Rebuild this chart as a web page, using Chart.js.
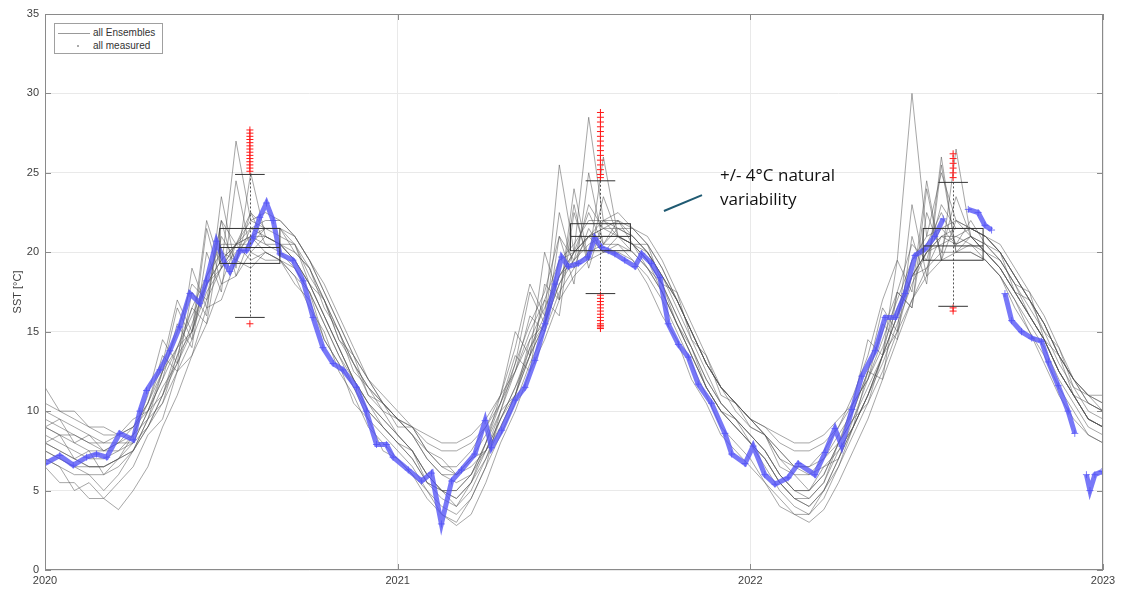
<!DOCTYPE html>
<html lang="en">
<head>
    <meta charset="UTF-8" />
    <title>SST ensembles vs measured</title>
    <script src="https://cdn.jsdelivr.net/npm/chart.js"></script>
    <style>
        html, body { margin: 0; padding: 0; background: #fff; }
        #wrap { position: relative; width: 1127px; height: 590px; }
        #legendBox {
            position: absolute; left: 54px; top: 23px; width: 107px; height: 29px;
            border: 1px solid #a0a0a0; background: #fff;
            font: 10px "Liberation Sans", Arial, sans-serif; color: #333;
        }
        #legendBox .row { position: absolute; left: 0; height: 12px; line-height: 12px; }
        #legendBox .sample { position: absolute; left: 3px; top: 6px; width: 32px; height: 1px; background: #999; }
        #legendBox .dot { position: absolute; left: 22px; top: 5px; width: 2px; height: 2px; background: #aaa; }
        #legendBox .txt { position: absolute; left: 38px; top: 0; white-space: nowrap; }
        #note {
            position: absolute; left: 720px; top: 163px;
            font: 17px "Open Sans", "Noto Sans", sans-serif; line-height: 24px; color: #111;
        }
    </style>
</head>
<body>
<div id="wrap">
    <canvas id="sst"></canvas>
    <div id="legendBox">
        <div class="row" style="top:3px"><span class="sample"></span><span class="txt">all Ensembles</span></div>
        <div class="row" style="top:16px"><span class="dot"></span><span class="txt">all measured</span></div>
    </div>
    <div id="note">+/- 4°C natural<br>variability</div>
</div>
<script>
// half-monthly ensemble runs, 2020-01-01 .. 2023-01-01 (73 values each)
const ensembleStart = 2020;
const ensembleStep = 1 / 24;

const e1 = [9.5, 9, 8.5, 8, 7.5, 8, 9, 10.5, 12.5, 15, 18, 17, 22, 20.5, 22.5, 21.5, 21.5, 20.5, 19, 17, 15, 13, 11.5, 10.5,
    9.5, 8.5, 7, 6, 6, 7, 8.5, 10.5, 13, 15.5, 17.5, 21, 19.5, 23, 21.5, 22, 21, 20, 18.5, 17, 15, 13, 11.5, 10.5,
    9.5, 8.5, 7, 6, 6, 7, 8.5, 10, 12.5, 15, 17.5, 20.5, 19.5, 23, 21.5, 21.5, 21, 20, 18.5, 17, 15.5, 13.5, 12, 10.5, 10];
const e2 = [10.5, 10, 9.5, 9, 8.5, 8.5, 9, 10.5, 13, 17, 15, 22, 19, 27, 22, 22.5, 22, 21, 19.5, 17.5, 15.5, 13.5, 12, 11,
    10, 9, 7.5, 6.5, 6.5, 7.5, 9, 11, 14, 18, 16, 25.5, 20, 28.5, 22, 22.5, 21.5, 20.5, 19, 17, 15, 13, 11.5, 10.5,
    9.5, 8.5, 7, 6.5, 6.5, 7.5, 9, 11, 13.5, 17, 19.5, 30, 21, 25, 22, 21.5, 21, 20, 18.5, 17, 15.5, 13.5, 12, 11, 10.5];
const e3 = [7, 6.5, 5, 5.5, 4.5, 5.5, 6.5, 8.5, 9.5, 12.5, 13.5, 16.5, 17, 19.5, 19, 20, 19.5, 18.5, 17.5, 14.5, 13, 11.5, 9.5, 8.5,
    7.5, 6.5, 5, 4, 3.5, 4.5, 6.5, 8.5, 10.5, 13, 15, 17.5, 19, 20, 20.5, 20.5, 20, 19, 17.5, 15.5, 13.5, 11.5, 10, 9,
    8, 6.5, 5, 4, 3.5, 4.5, 6.5, 8.5, 10.5, 12.5, 15, 17, 19, 20, 20, 20, 19.5, 18.5, 17, 15.5, 14, 12, 10.5, 9, 8.5];
const e4 = [8, 8.5, 7, 7.5, 6, 7, 7.5, 9.5, 10.5, 13.5, 15, 18, 19, 20.5, 20.5, 21.5, 21, 20.5, 18.5, 17, 14.5, 13, 11, 10,
    8.5, 7.5, 6, 5, 4.5, 5.5, 7.5, 9.5, 11.5, 14, 16, 18.5, 20, 21, 21.5, 21, 20.5, 19.5, 18, 16, 14, 12, 10.5, 9.5,
    8.5, 7.5, 6, 5, 4.5, 5.5, 7.5, 9, 11, 13.5, 16, 18.5, 20, 21, 21, 20.5, 20, 19, 17.5, 16, 14.5, 12.5, 11, 9.5, 9];
const e5 = [9, 8.5, 8, 7.5, 7.5, 7.5, 8, 9, 10.5, 12.5, 14.5, 17, 19, 20.5, 21.5, 22, 22, 21, 19.5, 18, 16, 14, 12, 10.5,
    9.5, 8.5, 7.5, 6.5, 6, 6.5, 7.5, 9, 11, 13.5, 15.5, 18, 20, 21, 22, 22, 21.5, 21, 19.5, 17.5, 15.5, 13.5, 11.5, 10.5,
    9.5, 8.5, 7.5, 6.5, 6, 6.5, 7.5, 9, 11, 13, 15.5, 18, 20, 21, 21.5, 21.5, 21, 20.5, 19, 17.5, 16, 14, 12, 10.5, 10];
const e6 = [8.5, 8, 7.5, 7, 7, 7.5, 8.5, 10.5, 13.5, 12.5, 17.5, 16, 23.5, 19, 25, 21, 20.5, 19.5, 18, 16, 14, 12, 10.5, 9.5,
    8.5, 7.5, 6, 5, 5, 6, 8, 10.5, 13.5, 12.5, 18, 17, 24, 19.5, 26, 21, 20.5, 19.5, 18, 16, 14, 12, 10.5, 9.5,
    8.5, 7.5, 6, 5, 5, 6, 8, 10, 12.5, 12, 17.5, 16.5, 24, 19.5, 26.5, 21, 20, 19, 17.5, 16, 14.5, 12.5, 11, 9.5, 9];
const e7 = [7.5, 7, 6.5, 6.5, 6.5, 7, 7.5, 9, 11, 13, 15.5, 18, 19.5, 20.5, 21, 20.5, 20.5, 19.5, 18, 16, 14, 12, 10, 9,
    8, 7.5, 5.5, 5, 4, 5.5, 7, 9.5, 11, 14, 15.5, 18.5, 19.5, 21, 20, 21, 20.5, 19, 18, 15.5, 14, 11.5, 10, 9.5,
    8, 7, 5.5, 4.5, 4, 5, 7, 9, 11, 13.5, 16, 18.5, 20, 21.5, 20.5, 21, 20, 19, 17.5, 16, 14.5, 12.5, 11, 9.5, 9];
const e8 = [9, 8.5, 8.5, 8, 8, 8.5, 9, 10, 12, 14, 16, 18, 19.5, 20.5, 21, 21.5, 21.5, 21, 19.5, 17.5, 15.5, 13.5, 12, 10.5,
    9.5, 9, 8, 7.5, 7.5, 8, 9, 10.5, 12.5, 14.5, 16.5, 18.5, 20, 21, 21.5, 21.5, 21.5, 20.5, 19, 17, 15, 13, 11.5, 10.5,
    9.5, 9, 8, 7.5, 7.5, 8, 9, 10.5, 12, 14, 16.5, 18.5, 20, 20.5, 21, 21.5, 21, 20, 18.5, 17, 15.5, 13.5, 12, 11, 10.5];
const e9 = [8, 7.5, 7, 6.5, 6.5, 7, 8, 10, 12, 15.5, 14, 20, 17.5, 24.5, 20, 21, 20.5, 19.5, 18, 16, 14, 12, 10.5, 9,
    8, 7, 5.5, 5, 5, 6, 8, 10, 12.5, 16, 15, 21, 18, 25, 20.5, 21.5, 21, 20, 18.5, 16.5, 14.5, 12.5, 10.5, 9.5,
    8.5, 7.5, 6, 5, 5, 6, 8, 9.5, 12, 15.5, 14.5, 21, 18, 25.5, 20, 21, 20.5, 19.5, 18, 16.5, 15, 13, 11.5, 10, 9.5];
const e10 = [6.5, 5.5, 5.5, 4.5, 4.5, 3.8, 5, 6.5, 9, 11, 13.5, 15.5, 18, 18.5, 20, 19.5, 19.5, 18, 17, 14.5, 13, 10.5, 9.5, 7.5,
    7, 6, 4.5, 3.5, 2.8, 3.5, 5.5, 8, 10, 12.5, 14.5, 17, 18.5, 19.5, 20, 20, 19.5, 18.5, 17, 15, 13, 11, 9, 8,
    7, 5.5, 4.5, 3.5, 3, 3.8, 5.5, 7.5, 9.5, 12, 14.5, 17, 18.5, 19.5, 20, 20, 19.5, 18.5, 17, 15, 13.5, 11.5, 10, 8.5, 8];
const e11 = [11.5, 10, 10, 9, 9, 8.5, 9.5, 10, 12.5, 14, 16.5, 18.5, 20.5, 20.5, 22, 21.5, 21.5, 20, 19, 16.5, 15, 12.5, 11.5, 10,
    9.5, 9, 8.5, 8, 8, 8.5, 9.5, 11, 12.5, 15, 17, 19.5, 20.5, 22, 22, 21.5, 21, 20, 18.5, 17, 15, 13, 11.5, 10.5,
    9.5, 9, 8.5, 8, 8, 8.5, 9.5, 10.5, 12, 14.5, 17, 19.5, 21, 21.5, 22, 21.5, 21, 20, 18.5, 17, 15.5, 13.5, 12, 11, 11];
const e12 = [7.5, 7, 6.5, 6, 6, 6.5, 7.5, 9, 11, 13.5, 16.5, 15.5, 21, 19.5, 22.5, 20.5, 20, 19, 17.5, 15.5, 13.5, 11.5, 10, 9,
    8, 7, 5.5, 4.5, 4, 5, 7, 9, 11, 13.5, 17, 16, 22.5, 19.5, 23.5, 21, 20.5, 19.5, 17.5, 15.5, 13.5, 11.5, 10, 9,
    8, 7, 5.5, 4.5, 4, 5, 7, 9, 11, 13.5, 17.5, 16.5, 22.5, 20, 23.5, 21, 20.5, 19.5, 18, 16, 14.5, 12.5, 11, 9.5, 9];
const e13 = [10, 9.5, 9, 8.5, 8, 8, 8.5, 9.5, 11.5, 13, 15, 17.5, 19, 20, 21, 21, 20.5, 20, 19, 17, 15, 13, 11.5, 10.5,
    9.5, 8.5, 7, 6, 5.5, 6, 7.5, 9.5, 11.5, 13.5, 15.5, 18, 19.5, 20.5, 21, 21, 20.5, 20, 18.5, 17, 15, 13, 11.5, 10,
    9, 8.5, 6.5, 6, 5, 6.5, 7, 9.5, 10.5, 13.5, 15, 18.5, 19, 21, 20.5, 21, 20, 19.5, 18, 17.5, 14.5, 13.5, 11, 10.5, 10];
const e14 = [8, 7.5, 7, 6.5, 6.5, 7, 8.5, 11, 14.5, 13, 19, 16.5, 22, 18.5, 21, 20, 19.5, 19, 17.5, 15.5, 13.5, 12, 10.5, 9.5,
    8.5, 7.5, 6, 5, 4.5, 5.5, 8, 11, 15, 13.5, 20, 17, 23, 19, 22, 21, 20, 19, 17.5, 15.5, 13.5, 11.5, 10, 9,
    8, 7, 5.5, 4.5, 4.5, 5.5, 8, 10.5, 14.5, 13.5, 19.5, 17.5, 24.5, 19.5, 22, 21, 20, 19, 17.5, 16, 14.5, 12.5, 11, 9.5, 9];
const e15 = [9, 9.5, 8, 8.5, 7.5, 8, 8, 10, 11, 14, 15, 18.5, 20, 19.5, 21.5, 21, 20.5, 20.5, 18, 17, 14.5, 13.5, 11, 10.5,
    9, 9, 7.5, 7, 6, 7, 7.5, 10, 11, 14.5, 15.5, 19.5, 20, 22.5, 20.5, 22, 20.5, 20.5, 18, 17.5, 14.5, 13.5, 11, 10.5,
    9, 8.5, 7.5, 6.5, 6.5, 7, 8, 9.5, 11.5, 13.5, 16, 19.5, 20.5, 22.5, 20.5, 22, 20.5, 20, 17.5, 17, 15, 14, 11.5, 11, 10];
const e16 = [7, 6.5, 6, 6, 5, 6, 7.5, 9.5, 12.5, 16.5, 14.5, 21.5, 18, 20.5, 19.5, 20, 19.5, 18.5, 16.5, 15, 12.5, 11, 9, 8,
    7, 6, 5, 3.5, 3, 4.5, 6.5, 10, 13, 17.5, 15.5, 22.5, 19, 21.5, 20, 20.5, 19.5, 18, 16, 14.5, 12, 10.5, 8.5, 7.5,
    6.5, 5.5, 4, 3.5, 3.5, 5, 6.5, 9, 12.5, 16.5, 15, 23, 18.5, 26, 20, 20.5, 19.5, 18.5, 16.5, 15, 13, 11, 9.5, 8.5, 8];
const ensembles = [e1, e2, e3, e4, e5, e6, e7, e8, e9, e10, e11, e12, e13, e14, e15, e16];

// measured SST (decimal year / degC), null = no data
const measuredYear = [
    2020.000, 2020.042, 2020.080, 2020.118, 2020.146, 2020.175, 2020.212, 2020.250, 2020.269, 2020.288, 2020.326, 2020.354,
    2020.382, 2020.411, 2020.439, 2020.458, 2020.486, 2020.510, 2020.524, 2020.552, 2020.571, 2020.590, 2020.609, 2020.628,
    2020.647, 2020.666, 2020.703, 2020.732, 2020.760, 2020.788, 2020.817, 2020.845, 2020.883, 2020.911, 2020.940, 2020.968, 2020.987,
    2021.030, 2021.068, 2021.096, 2021.124, 2021.153, 2021.181, 2021.219, 2021.248, 2021.266, 2021.295, 2021.333, 2021.361,
    2021.389, 2021.418, 2021.446, 2021.465, 2021.484, 2021.512, 2021.540, 2021.559, 2021.578, 2021.597, 2021.616, 2021.644,
    2021.673, 2021.692, 2021.720, 2021.744, 2021.767, 2021.796, 2021.824, 2021.852, 2021.890, 2021.928, 2021.947, 2021.985,
    2022.008, 2022.041, 2022.070, 2022.107, 2022.136, 2022.183, 2022.212, 2022.240, 2022.259, 2022.288, 2022.316, 2022.354,
    2022.382, 2022.411, 2022.439, 2022.467, 2022.495, 2022.523, 2022.547, 2022.580, 2022.618, 2022.646, 2022.665, 2022.684,
    2022.700, 2022.722, 2022.741, 2022.769, 2022.798, 2022.826, 2022.845, 2022.873, 2022.901, 2022.920, 2022.935, 2022.953,
    2022.963, 2022.977, 2022.997
];
const measuredSST = [
    6.7, 7.2, 6.6, 7.1, 7.3, 7.1, 8.6, 8.2, 10.0, 11.3, 12.6, 13.8,
    15.3, 17.4, 16.8, 18.2, 20.7, 19.3, 18.8, 20.1, 20.1, 20.9, 22.2, 23.1,
    22.0, 19.9, 19.5, 18.2, 15.9, 14.0, 13.0, 12.6, 11.5, 10.0, 7.9, 7.9, 7.1,
    6.3, 5.6, 6.1, 2.9, 5.6, 6.3, 7.3, 9.4, 7.7, 8.8, 10.7, 11.5,
    13.2, 15.5, 18.0, 19.7, 19.1, 19.3, 19.7, 20.9, 20.3, 20.1, 19.9, 19.5,
    19.1, 19.9, 19.3, 18.4, 15.5, 14.2, 13.4, 11.7, 10.5, 8.6, 7.3, 6.7,
    7.8, 6.0, 5.4, 5.8, 6.7, 6.0, 7.4, 8.9, 7.8, 10.1, 12.2, 13.8,
    15.9, 15.9, 17.4, 19.8, 20.2, 21.0, 22.1, null, 22.7, 22.5, 21.7, 21.4,
    null, 17.4, 15.7, 15.0, 14.6, 14.4, 13.1, 11.6, 10.0, 8.6, null, 6.0,
    5.0, 6.0, 6.2
];

// summer box plots of the ensembles
const boxYear = [2020.581, 2021.575, 2022.575];
const boxQ1 = [19.3, 20.1, 19.5];
const boxMedian = [20.3, 21.0, 20.4];
const boxQ3 = [21.5, 21.8, 21.5];
const whiskerLow = [15.9, 17.4, 16.6];
const whiskerHigh = [24.9, 24.5, 24.4];
const outliers2020 = [27.7, 27.5, 27.3, 27.1, 26.9, 26.7, 26.5, 26.3, 26.1, 25.9, 25.7, 25.5, 25.3, 25.1, 15.5];
const outliers2021 = [28.8, 28.5, 28.2, 27.9, 27.6, 27.3, 27.0, 26.7, 26.4, 26.1, 25.8, 25.5, 25.2, 24.9, 24.7,
    17.3, 17.1, 16.9, 16.7, 16.5, 16.3, 16.1, 15.9, 15.7, 15.5, 15.4, 15.3, 15.2];
const outliers2022 = [26.2, 25.9, 25.6, 25.3, 25.0, 24.7, 16.5, 16.3];
const outliers = [outliers2020, outliers2021, outliers2022];

// axes
const yearTicks = [2020, 2021, 2022, 2023];
const sstTicks = [0, 5, 10, 15, 20, 25, 30, 35];

// annotation pointer (data coords)
const noteLine = [{ x: 2021.755, y: 22.6 }, { x: 2021.863, y: 23.6 }];

const BOX_HALF = 0.085;
const CAP_HALF = 0.042;

Chart.defaults.font.family = '"Liberation Sans", Arial, sans-serif';
Chart.defaults.font.size = 11;
Chart.defaults.color = '#404040';

const datasets = [];
datasets.push({
    label: 'outliers',
    data: outliers.flatMap((arr, k) => arr.map(v => ({ x: boxYear[k], y: v }))),
    showLine: false,
    pointStyle: 'cross',
    pointRadius: 3.5,
    pointBorderWidth: 1,
    borderColor: '#ff1a1a',
    backgroundColor: '#ff1a1a',
    order: 0
});
datasets.push({
    label: 'note',
    data: noteLine,
    borderColor: '#1f5a72',
    borderWidth: 2,
    pointRadius: 0,
    order: 0
});
datasets.push({
    label: 'all measured',
    data: measuredYear.map((yr, i) => ({ x: yr, y: measuredSST[i] })),
    borderColor: 'rgba(82, 82, 246, 0.78)',
    backgroundColor: 'rgba(82, 82, 246, 0.78)',
    borderWidth: 5,
    pointStyle: 'cross',
    pointRadius: 3.5,
    pointBorderWidth: 1,
    spanGaps: false,
    order: 1
});
ensembles.forEach((vals, n) => {
    datasets.push({
        label: n === 0 ? 'all Ensembles' : '',
        data: vals.map((v, i) => ({ x: ensembleStart + i * ensembleStep, y: v })),
        borderColor: 'rgba(80, 80, 80, 0.5)',
        borderWidth: 1,
        pointRadius: 0,
        order: 2
    });
});

const boxPlots = {
    id: 'boxPlots',
    afterDatasetsDraw(chart) {
        const { ctx, scales: { x, y } } = chart;
        ctx.save();
        ctx.lineWidth = 1;
        boxYear.forEach((yr, k) => {
            const cx = Math.round(x.getPixelForValue(yr)) + 0.5;
            const l = x.getPixelForValue(yr - BOX_HALF), r = x.getPixelForValue(yr + BOX_HALF);
            const cl = x.getPixelForValue(yr - CAP_HALF), cr = x.getPixelForValue(yr + CAP_HALF);
            const q1 = y.getPixelForValue(boxQ1[k]), q3 = y.getPixelForValue(boxQ3[k]);
            const med = y.getPixelForValue(boxMedian[k]);
            const lo = y.getPixelForValue(whiskerLow[k]), hi = y.getPixelForValue(whiskerHigh[k]);
            ctx.strokeStyle = '#555';
            ctx.setLineDash([2, 2]);
            ctx.beginPath();
            ctx.moveTo(cx, hi); ctx.lineTo(cx, lo);
            ctx.stroke();
            ctx.setLineDash([]);
            ctx.strokeStyle = '#333';
            ctx.strokeRect(l, q3, r - l, q1 - q3);
            ctx.beginPath();
            ctx.moveTo(l, med); ctx.lineTo(r, med);
            ctx.moveTo(cl, hi); ctx.lineTo(cr, hi);
            ctx.moveTo(cl, lo); ctx.lineTo(cr, lo);
            ctx.stroke();
        });
        ctx.restore();
    }
};

// matlab style box + inward ticks
const frame = {
    id: 'frame',
    afterDraw(chart) {
        const { ctx, chartArea: a, scales: { x, y } } = chart;
        ctx.save();
        ctx.strokeStyle = '#8a8a8a';
        ctx.lineWidth = 1;
        ctx.strokeRect(a.left + 0.5, a.top + 0.5, a.right - a.left - 1, a.bottom - a.top - 1);
        ctx.beginPath();
        y.ticks.forEach(t => {
            const py = Math.round(y.getPixelForValue(t.value)) + 0.5;
            ctx.moveTo(a.left, py); ctx.lineTo(a.left + 6, py);
            ctx.moveTo(a.right - 6, py); ctx.lineTo(a.right, py);
        });
        x.ticks.forEach(t => {
            const px = Math.round(x.getPixelForValue(t.value)) + 0.5;
            ctx.moveTo(px, a.bottom); ctx.lineTo(px, a.bottom - 6);
            ctx.moveTo(px, a.top); ctx.lineTo(px, a.top + 6);
        });
        ctx.stroke();
        ctx.restore();
    }
};

new Chart(document.getElementById('sst'), {
    type: 'line',
    data: { datasets },
    plugins: [boxPlots, frame],
    options: {
        responsive: true,
        maintainAspectRatio: false,
        animation: false,
        layout: { padding: { top: 14, right: 24, left: 0, bottom: 0 } },
        plugins: { legend: { display: false }, tooltip: { enabled: false } },
        scales: {
            x: {
                type: 'linear',
                min: yearTicks[0],
                max: yearTicks[yearTicks.length - 1],
                afterBuildTicks: s => { s.ticks = yearTicks.map(v => ({ value: v })); },
                ticks: { callback: v => String(v), padding: 4, maxRotation: 0 },
                grid: { color: '#e9e9e9', drawTicks: false },
                border: { display: false },
                afterFit: s => { s.height = 20; }
            },
            y: {
                min: sstTicks[0],
                max: sstTicks[sstTicks.length - 1],
                afterBuildTicks: s => { s.ticks = sstTicks.map(v => ({ value: v })); },
                ticks: { padding: 6 },
                grid: { color: '#e9e9e9', drawTicks: false },
                border: { display: false },
                title: { display: true, text: 'SST [°C]', font: { size: 11 }, padding: { top: 11, bottom: 0 } },
                afterFit: s => { s.width = 45; }
            }
        }
    }
});
</script>
</body>
</html>
